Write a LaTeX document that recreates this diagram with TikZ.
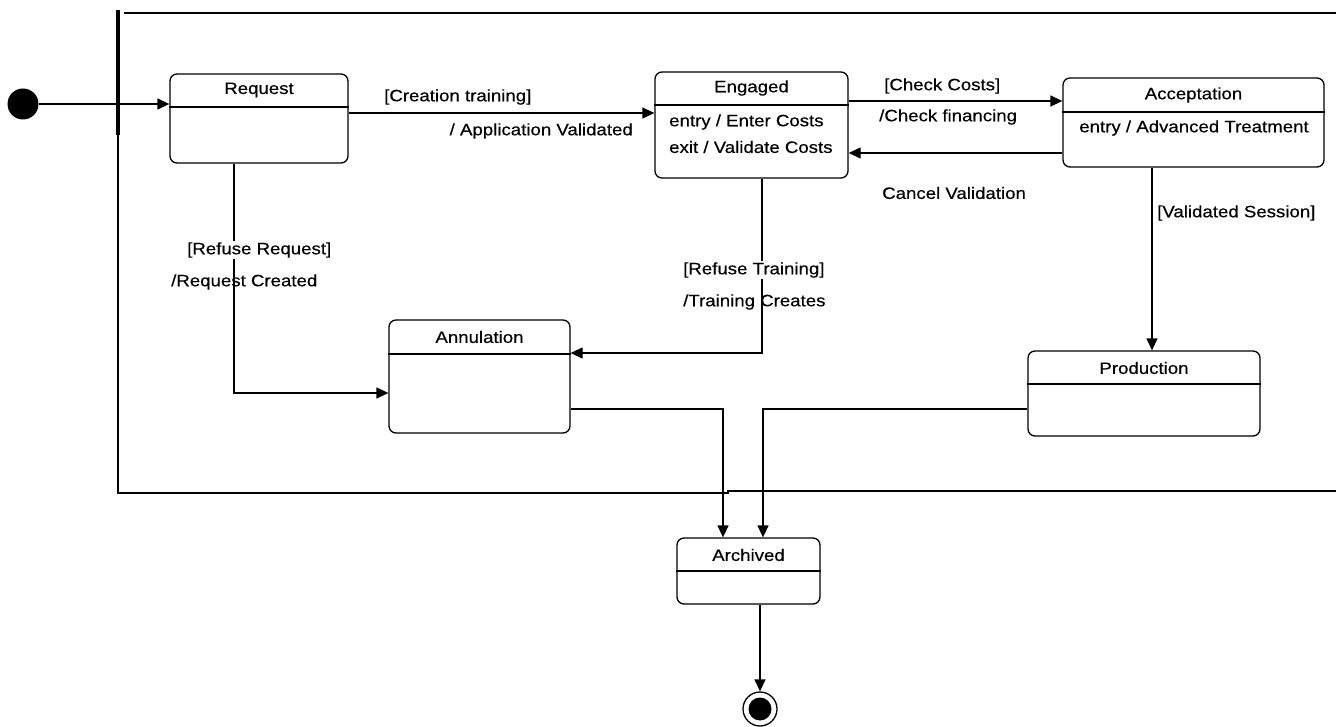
\documentclass[tikz,border=0pt]{standalone}
\usepackage{fontspec}
\setmainfont{Liberation Sans}[FakeStretch=1.13,FakeBold=0.4]
\usetikzlibrary{arrows.meta}
\begin{document}
\begin{tikzpicture}[x=1pt,y=-1pt,
  state/.style={draw, rounded corners=7pt, line width=1.3pt, inner sep=0pt, fill=white},
  txt/.style={font=\fontsize{16.5}{19}\selectfont, inner sep=0pt},
  guard/.style={txt, fill=white, inner sep=1pt},
  tr/.style={line width=1.3pt, -{Triangle[length=12pt,width=11pt]}},
  frame/.style={line width=2pt},
  sepline/.style={line width=1.3pt}]
\useasboundingbox (0,0) rectangle (1336,727);

% frame
\draw[frame] (118,135) -- (118,493) -- (728,493) -- (728,491) -- (1336,491);
\draw[line width=3.2pt] (118,10) -- (118,135);
\draw[frame] (124,13) -- (1336,13);

% states
\node[state, minimum width=178pt, minimum height=89pt] (req) at (259,118.5) {};
\node[state, minimum width=193pt, minimum height=106pt] (eng) at (751.5,125) {};
\node[state, minimum width=261pt, minimum height=89pt] (acc) at (1193.5,122.5) {};
\node[state, minimum width=181pt, minimum height=113pt] (ann) at (479.5,376.5) {};
\node[state, minimum width=232pt, minimum height=85pt] (prod) at (1144,393.5) {};
\node[state, minimum width=143pt, minimum height=66pt] (arch) at (748.5,571) {};

% separators
\draw[sepline] (req.west |- 0,107) -- (req.east |- 0,107);
\draw[sepline] (eng.west |- 0,105) -- (eng.east |- 0,105);
\draw[sepline] (acc.west |- 0,112) -- (acc.east |- 0,112);
\draw[sepline] (ann.west |- 0,354) -- (ann.east |- 0,354);
\draw[sepline] (prod.west |- 0,384) -- (prod.east |- 0,384);
\draw[sepline] (arch.west |- 0,571) -- (arch.east |- 0,571);

% titles and activities
\node[txt] (reqt) at (259,90) {Request};
\node[txt] (engt) at (751.5,88) {Engaged};
\node[txt, anchor=west] (enge1) at (669,122) {entry / Enter Costs};
\node[txt, anchor=west] (enge2) at (669,147) {exit / Validate Costs};
\node[txt] (acct) at (1193.5,95) {Acceptation};
\node[txt] (acce) at (1194,128) {entry / Advanced Treatment};
\node[txt] (annt) at (479.5,337) {Annulation};
\node[txt] (prodt) at (1144,368) {Production};
\node[txt] (archt) at (748.5,555) {Archived};

% pseudo states
\node[circle, fill=black, minimum size=31pt, inner sep=0pt] (init) at (23,104) {};
\node[circle, draw, line width=1.3pt, minimum size=34pt, inner sep=0pt] (fin) at (760,709) {};
\node[circle, fill=black, minimum size=23pt, inner sep=0pt] (finin) at (fin) {};

% transitions
\draw[tr] (init) -- (req.west |- init);
\draw[tr] (req.east |- 0,113) -- (eng.west |- 0,113);
\draw[tr] (eng.east |- 0,101) -- (acc.west |- 0,101);
\draw[tr] (acc.west |- 0,153) -- (eng.east |- 0,153);
\draw[tr] (acc.south -| 1152,0) -- (prod.north -| 1152,0);
\draw[tr] (req.south -| 234,0) |- (ann.west |- 0,393);
\draw[tr] (eng.south -| 762,0) |- (ann.east |- 0,353);
\draw[tr] (ann.east |- 0,409) -| (arch.north -| 723,0);
\draw[tr] (prod.west |- 0,409) -| (arch.north -| 763,0);
\draw[tr] (arch.south -| fin) -- (fin.north);

% transition labels
\node[txt, anchor=west] (l1) at (384,97) {[Creation training]};
\node[txt, anchor=east] (l2) at (633,131) {/ Application Validated};
\node[txt, anchor=west] (l3) at (884,86) {[Check Costs]};
\node[txt, anchor=west] (l4) at (879,117) {/Check financing};
\node[txt, anchor=west] (l5) at (882,193) {Cancel Validation};
\node[txt, anchor=west] (l6) at (1157,213) {[Validated Session]};
\node[guard, anchor=west] (l7) at (186,250) {[Refuse Request]};
\node[txt, anchor=west] (l8) at (171,282) {/Request Created};
\node[guard, anchor=west] (l9) at (682,270) {[Refuse Training]};
\node[txt, anchor=west] (l10) at (683,302) {/Training Creates};
\end{tikzpicture}
\end{document}
